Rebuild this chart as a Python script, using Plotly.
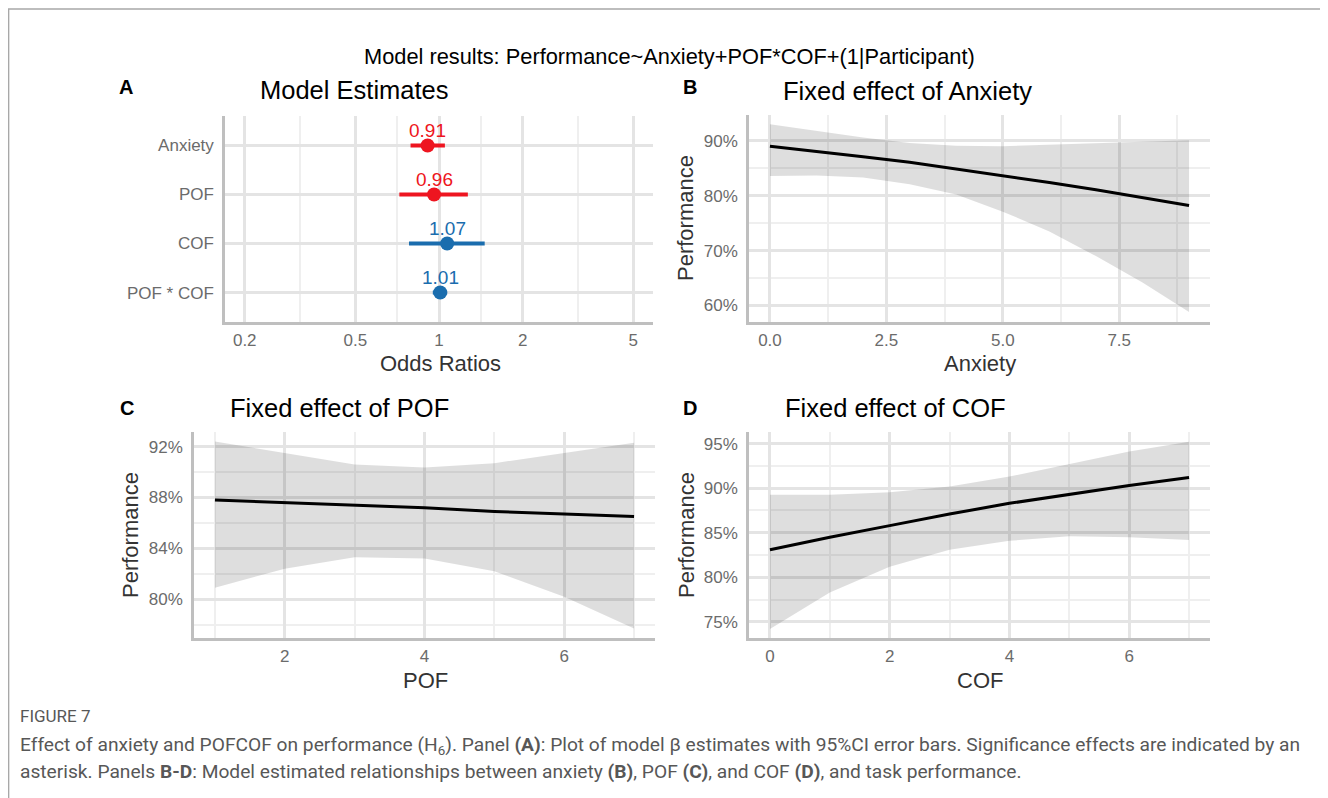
import math
import plotly.graph_objects as go

W, H = 1328, 798
OFF = 8  # page body margin

# ---------------- data ----------------
terms = ["Anxiety", "POF", "COF", "POF * COF"]
odds = [0.91, 0.96, 1.07, 1.01]
ci_low = [0.79, 0.72, 0.78, 0.95]
ci_high = [1.05, 1.27, 1.46, 1.07]
or_ticks = [0.2, 0.5, 1, 2, 5]

anx_x = [0, 1, 2, 3, 4, 5, 6, 7, 8, 9]
anx_fit = [89.0, 88.1, 87.1, 86.1, 84.9, 83.7, 82.4, 81.1, 79.7, 78.2]
anx_hi = [93.0, 91.8, 90.6, 89.6, 89.1, 89.0, 89.3, 89.6, 89.9, 90.1]
anx_lo = [83.6, 83.7, 83.3, 82.1, 80.2, 77.1, 73.5, 69.0, 64.2, 58.8]

pof_x = [1, 2, 3, 4, 5, 6, 7]
pof_fit = [87.8, 87.6, 87.4, 87.2, 86.9, 86.7, 86.5]
pof_hi = [92.4, 91.5, 90.6, 90.35, 90.7, 91.5, 92.3]
pof_lo = [80.9, 82.4, 83.3, 83.2, 82.2, 80.2, 77.7]

cof_x = [0, 1, 2, 3, 4, 5, 6, 7]
cof_fit = [83.1, 84.5, 85.8, 87.1, 88.3, 89.3, 90.3, 91.2]
cof_hi = [89.25, 89.25, 89.55, 90.2, 91.3, 92.7, 94.1, 95.2]
cof_lo = [74.2, 78.3, 81.2, 83.1, 84.1, 84.6, 84.5, 84.2]

RED = "#EE1520"
BLUE = "#1A6DAE"
FONT = "Liberation Sans, Arial, sans-serif"
TICKC = "#6b6b6b"
GRID = "#e4e4e4"
MINOR = "#efefef"
AXL = "#bfbfbf"


def px(x):
    return (x - OFF) / W


def py(y):
    return 1 - (y - OFF) / H


fig = go.Figure()
ann = []

# ---------------- panel A ----------------
ypos = [len(terms) - i for i in range(len(terms))]
for color, cond in [(RED, lambda v: v < 1), (BLUE, lambda v: v >= 1)]:
    idx = [i for i, v in enumerate(odds) if cond(v)]
    fig.add_trace(go.Scatter(
        x=[odds[i] for i in idx], y=[ypos[i] for i in idx],
        mode="markers",
        marker=dict(color=color, size=14),
        error_x=dict(type="data", symmetric=False,
                     array=[ci_high[i] - odds[i] for i in idx],
                     arrayminus=[odds[i] - ci_low[i] for i in idx],
                     color=color, thickness=4, width=0),
        xaxis="x", yaxis="y", showlegend=False, hoverinfo="skip"))
    for i in idx:
        ann.append(dict(x=math.log10(odds[i]), y=ypos[i], xref="x", yref="y",
                        text=f"{odds[i]:.2f}", showarrow=False, yshift=15,
                        xanchor="center", yanchor="middle",
                        font=dict(family=FONT, size=19, color=color)))


def ribbon(xs, lo, hi, fit, xa, ya):
    fig.add_trace(go.Scatter(
        x=list(xs) + list(xs)[::-1], y=list(hi) + list(lo)[::-1],
        fill="toself", fillcolor="rgba(0,0,0,0.13)", line=dict(width=0),
        mode="lines", xaxis=xa, yaxis=ya, showlegend=False, hoverinfo="skip"))
    fig.add_trace(go.Scatter(
        x=xs, y=fit, mode="lines", line=dict(color="black", width=3),
        xaxis=xa, yaxis=ya, showlegend=False, hoverinfo="skip"))


ribbon(anx_x, anx_lo, anx_hi, anx_fit, "x2", "y2")
ribbon(pof_x, pof_lo, pof_hi, pof_fit, "x3", "y3")
ribbon(cof_x, cof_lo, cof_hi, cof_fit, "x4", "y4")


def ax(domain, rng, tickvals, ticktext, minor=None, typ="linear", anchor=None, tl=5):
    d = dict(domain=domain, range=rng, type=typ, tickmode="array", tickvals=tickvals,
             ticktext=ticktext,
             showgrid=True, gridcolor=GRID, gridwidth=3, zeroline=False,
             showline=True, linecolor=AXL, linewidth=2.5,
             ticks="outside", ticklen=tl, tickcolor="rgba(0,0,0,0)",
             tickfont=dict(family=FONT, size=17, color=TICKC),
             anchor=anchor, fixedrange=True)
    if minor is not None:
        d["minor"] = dict(tickmode="array", tickvals=minor, showgrid=True,
                          gridcolor=MINOR, gridwidth=2, ticks="")
    return d


def pct(vals):
    return [f"{v}%" for v in vals]


xA = [px(225), px(653)]
yA = [py(322), py(116)]
xB = [px(749), px(1210)]
yB = [py(322), py(115)]
xC = [px(194), px(655)]
yC = [py(638), py(432)]
xD = [px(749), px(1210)]
yD = [py(638), py(432)]

XT = 1
fig.update_layout(
    xaxis=ax(xA, [-0.77, 0.77], or_ticks, [str(t) for t in or_ticks],
             minor=[0.316, 0.707, 1.414, 3.16], typ="log", anchor="y", tl=XT),
    yaxis=ax(yA, [0.4, 4.6], ypos, terms, anchor="x"),
    xaxis2=ax(xB, [-0.45, 9.45], [0, 2.5, 5, 7.5], ["0.0", "2.5", "5.0", "7.5"],
              minor=[1.25, 3.75, 6.25, 8.75], anchor="y2", tl=XT),
    yaxis2=ax(yB, [57.0, 94.7], [60, 70, 80, 90], pct([60, 70, 80, 90]), minor=[65, 75, 85], anchor="x2"),
    xaxis3=ax(xC, [0.7, 7.3], [2, 4, 6], ["2", "4", "6"], minor=[1, 3, 5, 7], anchor="y3", tl=XT),
    yaxis3=ax(yC, [76.95, 93.15], [80, 84, 88, 92], pct([80, 84, 88, 92]),
              minor=[78, 82, 86, 90], anchor="x3"),
    xaxis4=ax(xD, [-0.35, 7.35], [0, 2, 4, 6], ["0", "2", "4", "6"], minor=[1, 3, 5, 7], anchor="y4", tl=XT),
    yaxis4=ax(yD, [73.2, 96.3], [75, 80, 85, 90, 95], pct([75, 80, 85, 90, 95]),
              minor=[77.5, 82.5, 87.5, 92.5], anchor="x4"),
)


def text(x, y, s, size, color="black", xanchor="center", bold=False, angle=0, family=FONT):
    ann.append(dict(x=px(x), y=py(y), xref="paper", yref="paper", text=(f"<b>{s}</b>" if bold else s),
                    showarrow=False, xanchor=xanchor, yanchor="middle", textangle=angle,
                    font=dict(family=family, size=size, color=color)))


text(669, 56, "Model results: Performance~Anxiety+POF*COF+(1|Participant)", 21.8)
# panel letters
text(126, 87, "A", 20, bold=True)
text(690, 87, "B", 20, bold=True)
text(127, 408, "C", 20, bold=True)
text(690, 408, "D", 20, bold=True)
# panel titles
text(258, 90, "Model Estimates", 25.5, xanchor="left")
text(781, 91, "Fixed effect of Anxiety", 25.5, xanchor="left")
text(228, 408, "Fixed effect of POF", 25.5, xanchor="left")
text(783, 408, "Fixed effect of COF", 25.5, xanchor="left")
# axis titles
AT = "#333333"
text(440, 363, "Odds Ratios", 22, AT)
text(980, 363, "Anxiety", 22, AT)
text(425, 680, "POF", 22, AT)
text(980, 680, "COF", 22, AT)
text(686, 218, "Performance", 22, AT, angle=-90)
text(130, 535, "Performance", 22, AT, angle=-90)
text(686, 535, "Performance", 22, AT, angle=-90)
# caption
CAP = "Roboto, Open Sans, sans-serif"
CAPC = "#575757"
text(18, 716, "FIGURE 7", 17, CAPC, xanchor="left", family=CAP)
text(18, 745, "Effect of anxiety and POFCOF on performance (H<sub>6</sub>). Panel <b>(A)</b>: Plot of model β estimates "
              "with 95%CI error bars. Significance effects are indicated by an", 19.2, CAPC,
     xanchor="left", family=CAP)
text(18, 771, "asterisk. Panels <b>B-D</b>: Model estimated relationships between anxiety <b>(B)</b>, POF <b>(C)</b>, "
              "and COF <b>(D)</b>, and task performance.", 19.2, CAPC, xanchor="left", family=CAP)

fig.update_layout(
    annotations=ann,
    shapes=[dict(type="rect", xref="paper", yref="paper", x0=0.6 / W, x1=px(1326), y0=-0.05, y1=py(9),
                 line=dict(color="#a8a8a8", width=1.5), fillcolor="rgba(0,0,0,0)", layer="below")],
    width=W, height=H, margin=dict(l=0, r=0, t=0, b=0),
    paper_bgcolor="white", plot_bgcolor="white", showlegend=False,
)

fig.write_html("out.html")
